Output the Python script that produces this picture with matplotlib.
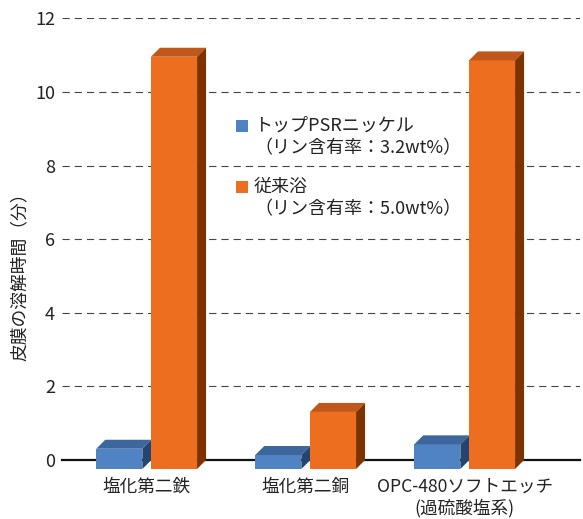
import numpy as np
import matplotlib.pyplot as plt
from matplotlib.patches import Polygon, Rectangle

plt.rcParams['font.family'] = ['Noto Sans CJK JP', 'DejaVu Sans']

# data
categories = ['塩化第二鉄', '塩化第二銅', 'OPC-480ソフトエッチ\n(過硫酸塩系)']
psr_nickel = [0.55, 0.38, 0.67]       # トップPSRニッケル
conventional = [11.2, 1.55, 11.1]     # 従来浴
series_labels = ['トップPSRニッケル\n（リン含有率：3.2wt%）',
                 '従来浴\n（リン含有率：5.0wt%）']
yticks = [0, 2, 4, 6, 8, 10, 12]

# colours: front, top, side
blue = ('#4F83C4', '#3D679C', '#234670')
orange = ('#EE6E20', '#C1581B', '#7C3300')

W, H = 583, 519
fig = plt.figure(figsize=(W / 100, H / 100), dpi=100)
ax_l, ax_r, ax_t, ax_b = 62, 580, 18.3, 460
ax = fig.add_axes([ax_l / W, 1 - ax_b / H, (ax_r - ax_l) / W, (ax_b - ax_t) / H])
xlim = (-0.589, -0.589 + (ax_r - ax_l) / 159.0)
ax.set_xlim(*xlim)
ax.set_ylim(0, 12)

# pixel -> data conversion for the fake 3d depth
sx = (xlim[1] - xlim[0]) / (ax_r - ax_l)
sy = 12.0 / (ax_b - ax_t)
ddx, ddy = 9 * sx, 9 * sy

width = 0.29
offset = 0.172
x = np.arange(len(categories))


def bar3d(xc, v, colors):
    front, top, side = colors
    x0, x1 = xc - width / 2, xc + width / 2
    ax.add_patch(Polygon([(x0 - ddx, -ddy), (x1 - ddx, -ddy), (x1 - ddx, v - ddy), (x0 - ddx, v - ddy)],
                         closed=True, fc=front, ec='none', clip_on=False, zorder=3))
    ax.add_patch(Polygon([(x0 - ddx, v - ddy), (x1 - ddx, v - ddy), (x1, v), (x0, v)],
                         closed=True, fc=top, ec='none', clip_on=False, zorder=3))
    ax.add_patch(Polygon([(x1 - ddx, -ddy), (x1, 0), (x1, v), (x1 - ddx, v - ddy)],
                         closed=True, fc=side, ec='none', clip_on=False, zorder=3))


for i in range(len(categories)):
    bar3d(x[i] - offset, psr_nickel[i], blue)
    bar3d(x[i] + offset, conventional[i], orange)

# grid and zero line
for t in yticks[1:]:
    ax.axhline(t, color='#444444', lw=0.8, dashes=(6.5, 4.5), zorder=1)
ax.axhline(0, color='#111111', lw=1.6, zorder=2, clip_on=False)

for s in ax.spines.values():
    s.set_visible(False)
ax.set_yticks(yticks)
ax.set_yticklabels([str(t) for t in yticks])
ax.set_xticks(x - ddx)
ax.set_xticklabels(categories, linespacing=1.2)
ax.tick_params(axis='y', length=0, pad=5, labelsize=13, labelcolor='#222222')
ax.tick_params(axis='x', length=0, pad=12.5, labelsize=12.7, labelcolor='#222222')

fig.text(20 / W, 1 - 272 / H, '皮膜の溶解時間（分）', rotation=90,
         ha='center', va='center', fontsize=12.8, color='#222222')

# legend drawn by hand
leg_y = [126, 187]
for lab, col, yy in zip(series_labels, [blue[0], orange[0]], leg_y):
    fig.add_artist(Rectangle((236 / W, 1 - (yy + 6) / H), 12 / W, 12 / H,
                             transform=fig.transFigure, fc=col, ec='none'))
    l1, l2 = lab.split('\n')
    fig.text(254 / W, 1 - yy / H, l1, ha='left', va='center', fontsize=13, color='#222222')
    fig.text(254 / W, 1 - (yy + 22) / H, l2, ha='left', va='center', fontsize=13, color='#222222')

fig.savefig('out.png', dpi=100)
